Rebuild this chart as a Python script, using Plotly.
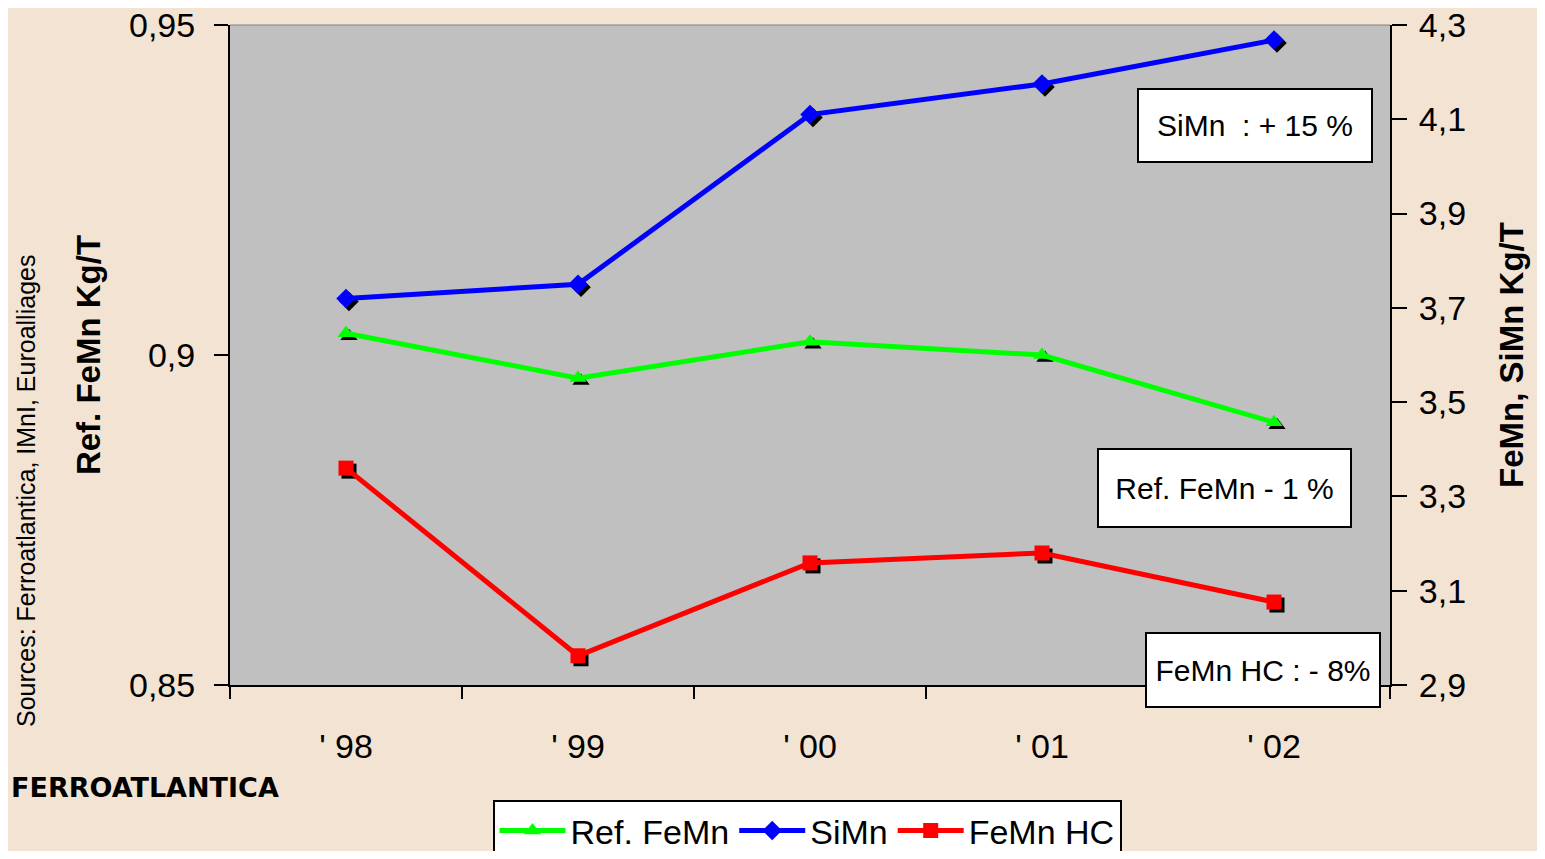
"""Consumo de ferroaleaciones por tonelada de acero."""

import plotly.graph_objects as go

years = ["' 98", "' 99", "' 00", "' 01", "' 02"]
ref_femn = [0.9033, 0.8965, 0.9020, 0.9000, 0.8898]
simn = [3.72, 3.75, 4.11, 4.175, 4.268]
femn_hc = [3.36, 2.962, 3.159, 3.18, 3.076]

ytick_left = [0.85, 0.9, 0.95]
ytick_right = [2.9, 3.1, 3.3, 3.5, 3.7, 3.9, 4.1, 4.3]

# la página tiene 8px de margen: coordenadas de la figura = página - 8
OFF = 8
W, H = 1529, 843
sh = 3  # desplazamiento de la sombra (px)
L, T = 230 - OFF, 25 - OFF
pw, ph = 1160 + sh, 660 + sh
R, B = W - L - pw, H - T - ph

FONT = "Liberation Sans, Arial"


def px_x(x):
    return (x - OFF - L) / pw


def px_y(y):
    return (T + ph - (y - OFF)) / ph


# (nombre, valores, color, símbolo, eje y visible, eje y de la sombra)
series = [
    ("Ref. FeMn", ref_femn, "#00ff00", "triangle-up", "y3", "y"),
    ("SiMn", simn, "#0000ff", "diamond", "y4", "y2"),
    ("FeMn HC", femn_hc, "#ff0000", "square", "y4", "y2"),
]

fig = go.Figure()

# sombras negras de los marcadores (subplot desplazado, dibujado primero)
for name, vals, color, sym, ya, ysh in series:
    fig.add_trace(go.Scatter(
        x=years, y=vals, mode="markers", xaxis="x", yaxis=ysh,
        marker=dict(symbol=sym, size=15, color="black"),
        showlegend=False, hoverinfo="skip",
    ))

for name, vals, color, sym, ya, ysh in series:
    fig.add_trace(go.Scatter(
        x=years, y=vals, mode="lines+markers", name=name,
        xaxis="x2", yaxis=ya,
        line=dict(color=color, width=5),
        marker=dict(symbol=sym, size=15, color=color),
    ))

tickfont = dict(family=FONT, size=34, color="black")

fig.update_layout(
    width=W, height=H,
    margin=dict(l=L, r=R, t=T, b=B),
    paper_bgcolor="#f3e3d3", plot_bgcolor="rgba(0,0,0,0)",
    separators=",.",
    font=dict(family=FONT, color="black"),
    # ejes de la sombra (invisibles)
    xaxis=dict(
        domain=[sh / pw, 1], type="category", range=[-0.5, 4.5],
        visible=False, anchor="y",
    ),
    yaxis=dict(
        domain=[0, (ph - sh) / ph], range=[0.85, 0.95], visible=False,
        anchor="x",
    ),
    yaxis2=dict(
        overlaying="y", range=[2.9, 4.3], visible=False, anchor="x",
    ),
    # ejes visibles
    xaxis2=dict(
        domain=[0, (pw - sh) / pw], type="category", automargin=False,
        anchor="y3",
        tickson="boundaries", ticks="outside", ticklen=12, tickwidth=2,
        tickcolor="black", showline=True, linecolor="black", linewidth=2,
        showgrid=False, tickfont=tickfont, ticklabelstandoff=30,
        range=[-0.5, 4.5],
    ),
    yaxis3=dict(
        domain=[sh / ph, 1], range=[0.85, 0.95], tickvals=ytick_left,
        automargin=False, anchor="x2", ticklabeloverflow="allow",
        ticks="outside", ticklen=14, tickwidth=2, tickcolor="black",
        showline=True, linecolor="black", linewidth=2, showgrid=False,
        zeroline=False, tickfont=tickfont, ticklabelstandoff=12,
        title=dict(text="<b>Ref. FeMn Kg/T</b>", standoff=18,
                   font=dict(family=FONT, size=33)),
    ),
    yaxis4=dict(
        overlaying="y3", side="right", range=[2.9, 4.3], tickvals=ytick_right,
        automargin=False, anchor="x2", ticklabeloverflow="allow",
        ticks="outside", ticklen=15, tickwidth=2, tickcolor="black",
        showline=True, linecolor="black", linewidth=2, showgrid=False,
        zeroline=False, tickfont=tickfont, ticklabelstandoff=5,
        title=dict(text="<b>FeMn, SiMn Kg/T</b>", standoff=35,
                   font=dict(family=FONT, size=33)),
    ),
    yaxis5=dict(
        overlaying="y3", side="right", range=[2.9, 4.3], tickvals=ytick_right,
        automargin=False, anchor="x2",
        ticks="inside", ticklen=15, tickwidth=2, tickcolor="black",
        showticklabels=False, showline=False, showgrid=False, zeroline=False,
    ),
    legend=dict(
        orientation="h", xref="container", yref="container",
        x=(807 - OFF) / W, xanchor="center", y=1 - (800 - OFF) / H, yanchor="top",
        bgcolor="white", bordercolor="black", borderwidth=2,
        font=dict(family=FONT, size=34), itemwidth=66,
    ),
    showlegend=True,
)

# fondo gris y línea superior del área de trazado
fig.add_shape(type="rect", xref="paper", yref="paper", layer="below",
              x0=0, x1=(pw - sh) / pw, y0=sh / ph, y1=1,
              fillcolor="#c0c0c0", line=dict(width=0))
fig.add_shape(type="line", xref="paper", yref="paper", x0=0, x1=(pw - sh) / pw,
              y0=1, y1=1, line=dict(color="#808080", width=1))

boxes = [
    ("SiMn  : + 15 %", 1255, 125, 236, 75),
    ("Ref. FeMn - 1 %", 1224, 488, 255, 80),
    ("FeMn HC : - 8%", 1263, 670, 236, 76),
]
for text, cx, cy, bw, bh in boxes:
    fig.add_annotation(
        text=text, xref="paper", yref="paper", x=px_x(cx), y=px_y(cy),
        xanchor="center", yanchor="middle",
        showarrow=False, bgcolor="white", bordercolor="black", borderwidth=2,
        width=bw - 4, height=bh - 4, borderpad=0,
        font=dict(family=FONT, size=30, color="black"),
    )

fig.add_annotation(
    text="Sources: Ferroatlantica, IMnI, Euroalliages", textangle=-90,
    xref="paper", yref="paper", x=px_x(26), y=px_y(491),
    xanchor="center", yanchor="middle",
    showarrow=False, font=dict(family=FONT, size=25, color="black"),
)
fig.add_annotation(
    text="<b>FERROATLANTICA</b>", xref="paper", yref="paper",
    x=px_x(9), xanchor="left", y=px_y(788), yanchor="middle",
    showarrow=False, font=dict(family="DejaVu Sans", size=27, color="black"),
)

fig.write_html("out.html")
